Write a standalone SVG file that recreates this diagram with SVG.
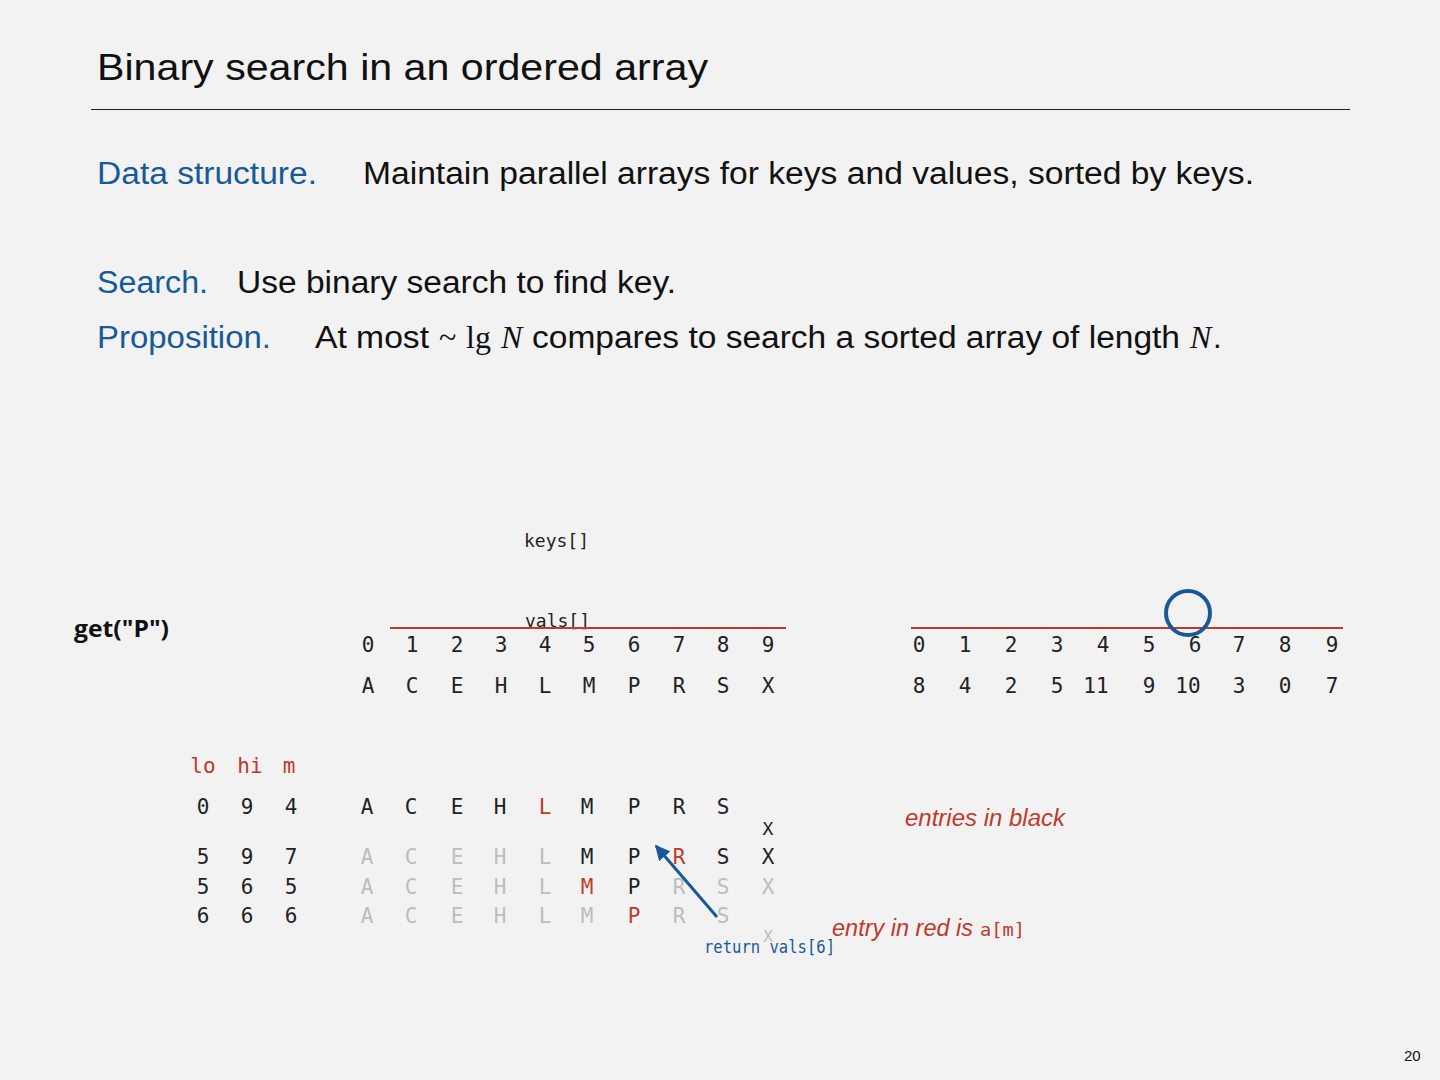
<svg xmlns="http://www.w3.org/2000/svg" width="1440" height="1080" viewBox="0 0 1440 1080">
<defs>
<style>
.title{font-family:"Liberation Sans",Arial,sans-serif;font-size:37px;fill:#111}
.body{font-family:"Liberation Sans",Arial,sans-serif;font-size:31px;fill:#111}
.blue{fill:#175a97}
.math{font-family:"Liberation Serif","Times New Roman",serif;font-size:32px;fill:#111}
.mono{font-family:"DejaVu Sans Mono","Liberation Mono",monospace;font-size:21px;fill:#222;text-anchor:middle}
.lbl{font-family:"DejaVu Sans Mono","Liberation Mono",monospace;font-size:18px;fill:#222}
.red{fill:#c0392b}
.gray{fill:#bdbdbd}
.note{font-family:"Liberation Sans",Arial,sans-serif;font-size:23px;font-style:italic;fill:#c0392b}
</style>
<marker id="ah" viewBox="0 0 10 10" refX="9" refY="5" markerWidth="5" markerHeight="5" orient="auto"><path d="M0,0 L10,5 L0,10 z" fill="#175a97"/></marker>
</defs>
<rect width="1440" height="1080" fill="#f2f2f2"/>
<g id="header">
<text class="title" x="97" y="80" textLength="611" lengthAdjust="spacingAndGlyphs">Binary search in an ordered array</text>
<line x1="91" y1="109.5" x2="1350" y2="109.5" stroke="#222" stroke-width="1"/>
</g>
<g id="text">
<text class="body blue" x="97" y="184" textLength="220" lengthAdjust="spacingAndGlyphs">Data structure.</text>
<text class="body" x="363" y="184" textLength="891" lengthAdjust="spacingAndGlyphs">Maintain parallel arrays for keys and values, sorted by keys.</text>
<text class="body blue" x="97" y="293" textLength="111" lengthAdjust="spacingAndGlyphs">Search.</text>
<text class="body" x="237" y="293" textLength="439" lengthAdjust="spacingAndGlyphs">Use binary search to find key.</text>
<text class="body blue" x="97" y="348" textLength="174" lengthAdjust="spacingAndGlyphs">Proposition.</text>
<text class="body" x="315" y="348" textLength="114" lengthAdjust="spacingAndGlyphs">At most</text>
<text class="math" x="439" y="348">~</text>
<text class="math" x="466" y="348">lg</text>
<text class="math" x="501" y="348" font-style="italic">N</text>
<text class="body" x="532" y="348" textLength="648" lengthAdjust="spacingAndGlyphs">compares to search a sorted array of length</text>
<text class="math" x="1190" y="348" font-style="italic">N</text>
<text class="body" x="1213" y="348">.</text>
</g>
<g id="get-label"><text x="74" y="637" font-family="'Open Sans',Lato,sans-serif" font-weight="bold" font-size="23" fill="#111" textLength="95" lengthAdjust="spacingAndGlyphs">get("P")</text></g>
<g id="keys-array">
<text class="lbl" x="524" y="547">keys[]</text>
<text class="lbl" x="525" y="627" font-size="20">vals[]</text>
<line x1="390" y1="628" x2="786" y2="628" stroke="#c0392b" stroke-width="2"/>
<g class="mono">
<text x="368" y="652">0</text><text x="412" y="652">1</text><text x="457" y="652">2</text><text x="501" y="652">3</text><text x="545" y="652">4</text><text x="589" y="652">5</text><text x="634" y="652">6</text><text x="679" y="652">7</text><text x="723" y="652">8</text><text x="768" y="652">9</text>
<text x="368" y="693">A</text><text x="412" y="693">C</text><text x="457" y="693">E</text><text x="501" y="693">H</text><text x="545" y="693">L</text><text x="589" y="693">M</text><text x="634" y="693">P</text><text x="679" y="693">R</text><text x="723" y="693">S</text><text x="768" y="693">X</text>
</g>
</g>
<g id="vals-array">
<line x1="911" y1="628" x2="1343" y2="628" stroke="#c0392b" stroke-width="2"/>
<circle cx="1188" cy="613" r="22" fill="none" stroke="#175a97" stroke-width="4"/>
<g class="mono">
<text x="919" y="652">0</text><text x="965" y="652">1</text><text x="1011" y="652">2</text><text x="1057" y="652">3</text><text x="1103" y="652">4</text><text x="1149" y="652">5</text><text x="1195" y="652">6</text><text x="1239" y="652">7</text><text x="1285" y="652">8</text><text x="1332" y="652">9</text>
<text x="919" y="693">8</text><text x="965" y="693">4</text><text x="1011" y="693">2</text><text x="1057" y="693">5</text><text x="1096" y="693">11</text><text x="1149" y="693">9</text><text x="1188" y="693">10</text><text x="1239" y="693">3</text><text x="1285" y="693">0</text><text x="1332" y="693">7</text>
</g>
</g>
<g id="trace" class="mono">
<text class="red" x="203" y="773">lo</text><text class="red" x="250" y="773">hi</text><text class="red" x="289" y="773">m</text>
<text x="203" y="814">0</text><text x="247" y="814">9</text><text x="291" y="814">4</text>
<text x="367" y="814">A</text><text x="411" y="814">C</text><text x="457" y="814">E</text><text x="500" y="814">H</text><text class="red" x="545" y="814">L</text><text x="587" y="814">M</text><text x="634" y="814">P</text><text x="679" y="814">R</text><text x="723" y="814">S</text>
<text x="768" y="835" font-size="18">X</text>
<text x="203" y="864">5</text><text x="247" y="864">9</text><text x="291" y="864">7</text>
<text class="gray" x="367" y="864">A</text><text class="gray" x="411" y="864">C</text><text class="gray" x="457" y="864">E</text><text class="gray" x="500" y="864">H</text><text class="gray" x="545" y="864">L</text><text x="587" y="864">M</text><text x="634" y="864">P</text><text class="red" x="679" y="864">R</text><text x="723" y="864">S</text><text x="768" y="864">X</text>
<text x="203" y="894">5</text><text x="247" y="894">6</text><text x="291" y="894">5</text>
<text class="gray" x="367" y="894">A</text><text class="gray" x="411" y="894">C</text><text class="gray" x="457" y="894">E</text><text class="gray" x="500" y="894">H</text><text class="gray" x="545" y="894">L</text><text class="red" x="587" y="894">M</text><text x="634" y="894">P</text><text class="gray" x="679" y="894">R</text><text class="gray" x="723" y="894">S</text><text class="gray" x="768" y="894">X</text>
<text x="203" y="923">6</text><text x="247" y="923">6</text><text x="291" y="923">6</text>
<text class="gray" x="367" y="923">A</text><text class="gray" x="411" y="923">C</text><text class="gray" x="457" y="923">E</text><text class="gray" x="500" y="923">H</text><text class="gray" x="545" y="923">L</text><text class="gray" x="587" y="923">M</text><text class="red" x="634" y="923">P</text><text class="gray" x="679" y="923">R</text><text class="gray" x="723" y="923">S</text>
<text class="gray" x="768" y="942" font-size="16">X</text>
</g>
<g id="connectors">
<line x1="717" y1="917" x2="656" y2="846" stroke="#175a97" stroke-width="3" marker-end="url(#ah)"/>
</g>
<g id="annotations">
<text class="lbl" x="704" y="953" style="fill:#175a97" font-size="19" textLength="131" lengthAdjust="spacingAndGlyphs">return vals[6]</text>
<text class="note" x="905" y="826" textLength="160" lengthAdjust="spacingAndGlyphs">entries in black</text>
<text class="note" x="832" y="936" textLength="141" lengthAdjust="spacingAndGlyphs">entry in red is</text>
<text class="lbl" x="980" y="936" style="fill:#c0392b" font-size="19" textLength="45" lengthAdjust="spacingAndGlyphs">a[m]</text>
</g>
<g id="page"><text x="1404" y="1061" font-family="Liberation Sans,Arial,sans-serif" font-size="15" fill="#111">20</text></g>
</svg>
